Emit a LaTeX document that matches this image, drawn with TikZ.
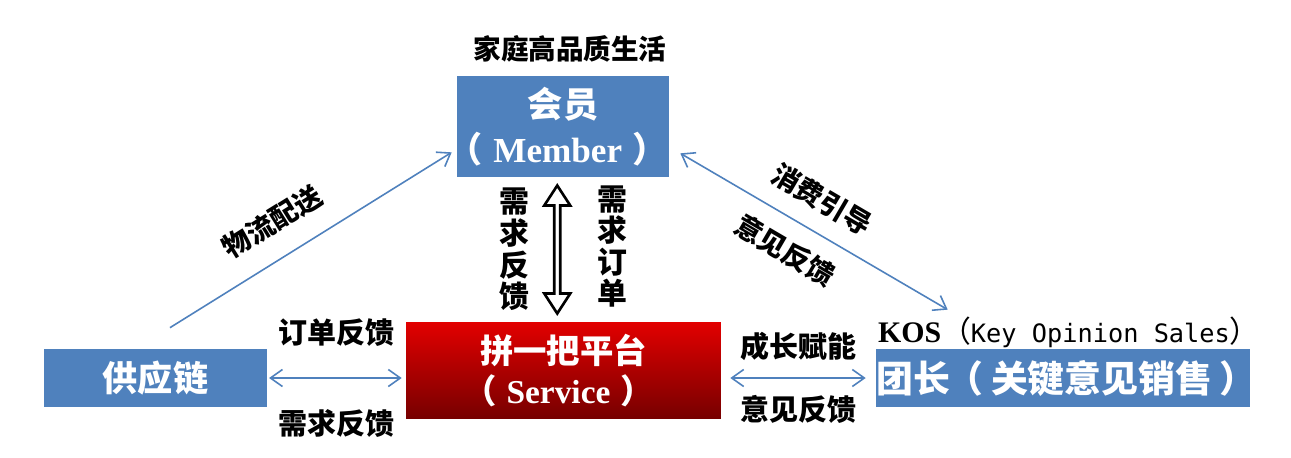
\documentclass[tikz,border=0pt]{standalone}
\usepackage{fontspec}
\setmainfont{Liberation Serif}
\newfontfamily\cjk{Noto Sans CJK SC}
\newfontfamily\mono{DejaVu Sans Mono}
\usetikzlibrary{arrows.meta, positioning, shapes.arrows, calc}
\definecolor{boxblue}{RGB}{79,129,189}
\definecolor{platred}{RGB}{226,0,0}
\definecolor{platdark}{RGB}{118,0,0}
\newcommand{\lat}[1]{{\rmfamily #1}}
\newcommand{\lpar}{\hspace{-0.3em}（\hspace{0.3em}}
\newcommand{\rpar}{\hspace{0.3em}）\hspace{-0.3em}}

\begin{document}
\begin{tikzpicture}[x=0.02cm,y=-0.02cm,>={Straight Barb[length=0.24cm,width=0.34cm]},
  box node/.style={text=white,align=center,inner sep=0pt,
    font={\cjk\bfseries\fontsize{20}{25.5}\selectfont}},
  tag node/.style={font={\cjk\bfseries\fontsize{16.5}{17.6}\selectfont},inner sep=1pt},
  link/.style={draw=boxblue,line width=0.9pt}]
  \fill[white] (0,0) rectangle (1291,457);
  \useasboundingbox (0,0) rectangle (1291,457);
  % boxes
  \node[box node,fill=boxblue,minimum width=4.24cm,minimum height=2.02cm] (mem) at (563,126.5) {会员\\\lpar\lat{Member}\rpar};
  \node[box node,top color=platred,bottom color=platdark,minimum width=6.3cm,minimum height=1.94cm,
    font={\cjk\bfseries\fontsize{19}{23.2}\selectfont}] (plat) at (563.5,370.5) {拼一把平台\\\lpar\lat{Service}\rpar};
  \node[box node,fill=boxblue,minimum width=4.46cm,minimum height=1.16cm] (sup) at (155.5,378) {供应链};
  \node[box node,fill=boxblue,minimum width=7.48cm,minimum height=1.16cm,
    font={\cjk\bfseries\fontsize{21}{24}\selectfont}] (kos) at (1063,378) {团长\hspace{-0.1em}（\hspace{0.2em}关键意见销售\hspace{0.2em}）\hspace{-0.2em}};
  % texts over the boxes
  \node[tag node,font={\cjk\bfseries\fontsize{15.7}{17}\selectfont},above=0.22cm of mem,xshift=0.14cm] (slogan) {家庭高品质生活};
  \node[anchor=base west,inner sep=0pt] (kostag) at ([shift={(2,-6)}]kos.north west)
    {{\fontsize{17}{20}\selectfont\bfseries KOS}{\cjk\fontsize{17}{20}\selectfont （}{\mono\fontsize{14.4}{17}\selectfont Key Opinion Sales}{\cjk\fontsize{17}{20}\selectfont ）}};
  % member <-> platform
  \node[double arrow,draw=black,line width=1.5pt,fill=white,rotate=90,inner sep=0pt,
    minimum height=2.56cm,minimum width=0.52cm,double arrow head extend=0.09cm,
    double arrow tip angle=66] (dbl) at ($(mem.south)!0.5!(plat.north)+(-6,0)$) {};
  \node[tag node,align=center,font={\cjk\bfseries\fontsize{17}{18}\selectfont}] (fb) at ([xshift=-0.86cm]dbl.center) {需\\求\\反\\馈};
  \node[tag node,align=center,font={\cjk\bfseries\fontsize{17}{18}\selectfont}] (ord) at ([xshift=1.1cm,yshift=0.06cm]dbl.center) {需\\求\\订\\单};
  % free ends of the slanted links
  \coordinate (a1) at ([shift={(14.5,-21)}]sup.north);
  \coordinate (a2) at ([shift={(-5,-25)}]mem.south west);
  \coordinate (b1) at ([shift={(11,-24)}]mem.south east);
  \coordinate (b2) at ([shift={(72,-39)}]kos.north west);
  \path[link]
    (a1) edge[->] node[tag node,font={\cjk\bfseries\fontsize{15.7}{17}\selectfont},sloped,pos=0.43,above=0.4cm] {物流配送} (a2)
    (b1) edge[<->] node[tag node,font={\cjk\bfseries\fontsize{15.7}{17}\selectfont},sloped,pos=0.47,above=0.32cm] {消费引导}
                   node[tag node,font={\cjk\bfseries\fontsize{15.7}{17}\selectfont},sloped,pos=0.45,below=0.3cm] {意见反馈} (b2)
    (sup.east) edge[<->,shorten <=1pt,shorten >=0.08cm]
                   node[tag node,above=0.58cm] {订单反馈}
                   node[tag node,below=0.58cm] {需求反馈} (sup.east -| plat.west)
    (plat.east |- kos.west) edge[<->,shorten <=0.18cm,shorten >=0.2cm]
                   node[tag node,above=0.3cm] {成长赋能}
                   node[tag node,below=0.3cm] {意见反馈} (kos.west);
\end{tikzpicture}
\end{document}
